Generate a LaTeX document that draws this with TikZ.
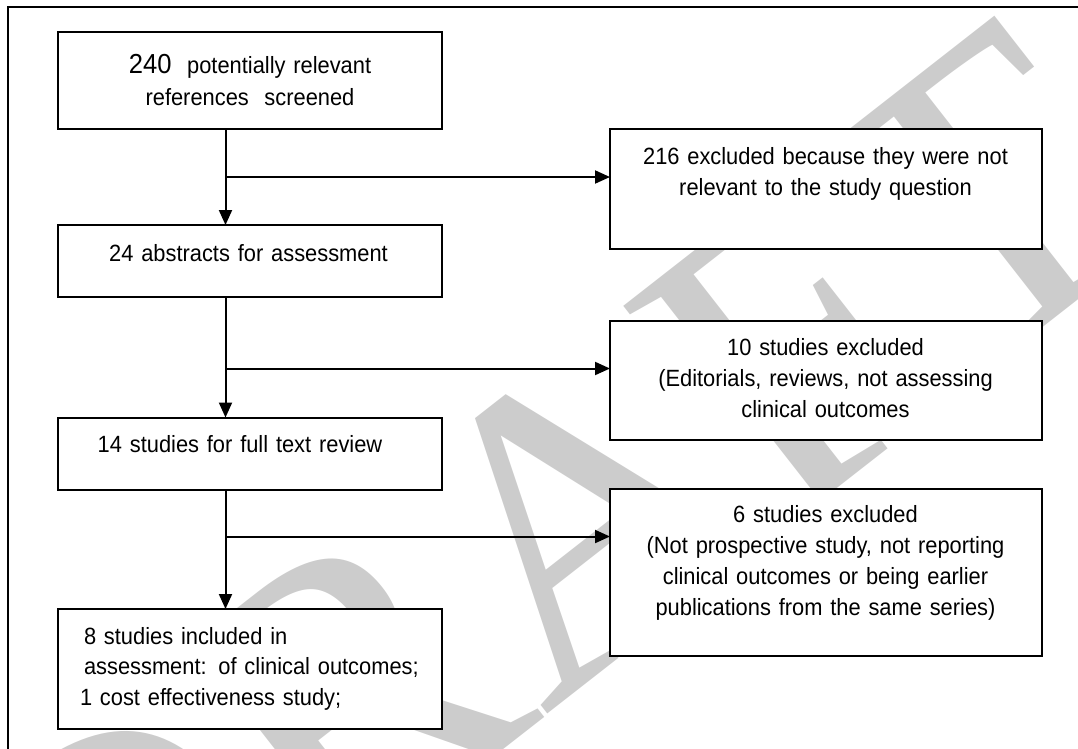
\documentclass[tikz,border=0pt]{standalone}
\usepackage{fontspec}
\setmainfont[FakeStretch=0.93]{Liberation Sans}
\newfontfamily\wmfont{Liberation Serif}
\usetikzlibrary{arrows.meta}
\begin{document}
\begin{tikzpicture}[x=1pt,y=-1pt,
  box/.style={draw, line width=2pt, fill=white, inner sep=0pt, outer sep=0pt, anchor=north west},
  txt/.style={inner sep=0pt, outer sep=0pt, font=\fontsize{23.5}{31}\selectfont, align=center, anchor=base, text width=#1},
  txt/.default=420pt,
  arr/.style={line width=2pt, -{Triangle[length=15pt,width=13pt]}},
  frame/.style={line width=1.6pt},
  wmark/.style={anchor=base west, rotate=38, inner sep=0pt, text=black!20, font=\wmfont\fontsize{420}{420}\selectfont}]
\useasboundingbox (0,0) rectangle (1078,748);
\begin{scope}
  \clip (0,0) rectangle (1078,748);
  \node[wmark] (wm) at (85,1076) {DRAFT};
\end{scope}
\draw[frame] (8,760) -- (8,7) -- (1090,7);
% boxes
\node[box, minimum width=383.5pt, minimum height=96.6pt] (b1) at (58,32.4) {};
\node[box, minimum width=383.5pt, minimum height=72pt] (b2) at (58,225) {};
\node[box, minimum width=383.5pt, minimum height=72pt] (b3) at (58,417.5) {};
\node[box, minimum width=383.5pt, minimum height=119.5pt] (b4) at (58,609) {};
\node[box, minimum width=432pt, minimum height=120.2pt] (e1) at (610,128.8) {};
\node[box, minimum width=432pt, minimum height=119.4pt] (e2) at (610,320.6) {};
\node[box, minimum width=432pt, minimum height=167pt] (e3) at (610,489) {};
% texts
\node[txt=380pt, font=\fontsize{23.5}{32}\selectfont] (t1) at (250,73)
  {{\fontsize{27.5}{32}\selectfont 240}\ \ potentially relevant\\references\ \ screened};
\node[txt=380pt] (t2) at (248.5,261.5) {24 abstracts for assessment};
\node[txt=380pt] (t3) at (240,452) {14 studies for full text review};
\node[txt=340pt, align=left, anchor=base west, font=\fontsize{23.5}{30.5}\selectfont] (t4) at (80,644)
  {\hspace*{4pt}8 studies included in\\\hspace*{4pt}assessment: of clinical outcomes;\\1 cost effectiveness study;};
\node[txt] (u1) at (825.5,164.6) {216 excluded because they were not\\relevant to the study question};
\node[txt] (u2) at (825.5,355) {10 studies excluded\\(Editorials, reviews, not assessing\\clinical outcomes};
\node[txt] (u3) at (825.5,522) {6 studies excluded\\(Not prospective study, not reporting\\clinical outcomes or being earlier\\publications from the same series)};
% branch points
\coordinate (v1) at (225.5,177);
\coordinate (v2) at (225.5,368.5);
\coordinate (v3) at (225.5,536.5);
% connectors
\draw[arr] (b1.south -| v1) -- (b2.north -| v1);
\draw[arr] (b2.south -| v2) -- (b3.north -| v2);
\draw[arr] (b3.south -| v3) -- (b4.north -| v3);
\draw[arr] (v1) -- (v1 -| e1.west);
\draw[arr] (v2) -- (v2 -| e2.west);
\draw[arr] (v3) -- (v3 -| e3.west);
\end{tikzpicture}
\end{document}
